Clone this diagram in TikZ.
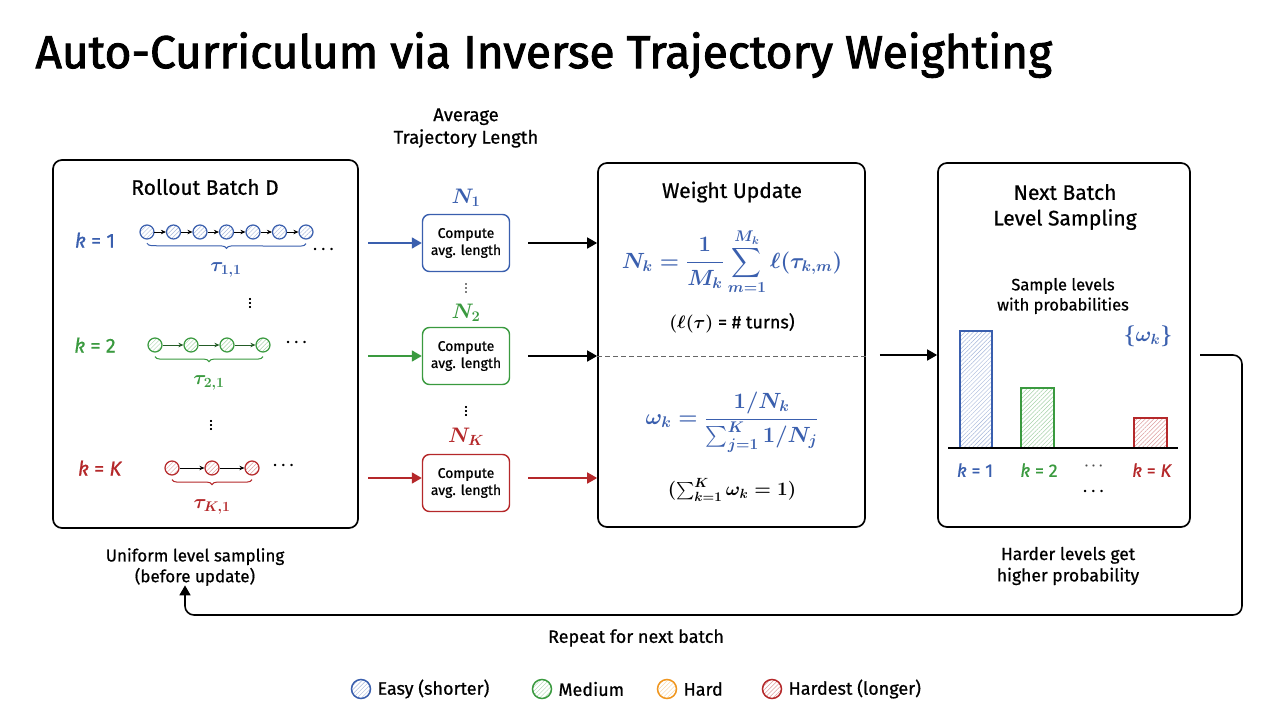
\RequirePackage{fix-cm}
\documentclass[tikz,border=0pt]{standalone}
\usepackage{fontspec}
\setmainfont{Fira Sans}[FakeBold=0.7]
\usepackage{amsmath}
\usetikzlibrary{arrows.meta,patterns.meta,decorations.pathreplacing,calc}
\definecolor{cblue}{HTML}{3A5FAE}
\definecolor{cgreen}{HTML}{3A9A3F}
\definecolor{cred}{HTML}{B5282A}
\definecolor{corange}{HTML}{F0961E}
\newcommand{\fs}[1]{\fontsize{#1pt}{1.22\dimexpr #1pt\relax}\selectfont}
\tikzset{
  panel/.style={draw, line width=1.7pt, rounded corners=9pt},
  cbox/.style={draw, line width=1.4pt, rounded corners=7pt, minimum width=87pt, minimum height=57pt, align=center, font=\fs{14}},
  tc/.style={circle, draw, line width=1.2pt, minimum size=14pt, inner sep=0pt},
  hatch/.style={pattern={Lines[angle=45,distance=3pt,line width=0.45pt]}, pattern color=#1!45},
  smallarr/.style={-{Stealth[length=5pt,width=4.5pt]}, line width=0.9pt},
  bigarr/.style={-{Triangle[length=10pt,width=11pt]}, line width=1.7pt},
  brc/.style={decorate, decoration={brace, mirror, amplitude=5pt}, line width=1pt},
  txt/.style={align=center, font=\fs{17.5}},
  hd/.style={align=center, font=\fs{21}},
  mth/.style={font=\fs{#1}\boldmath},
  lg/.style={tc, minimum size=19pt, line width=1.5pt, draw=#1, hatch=#1},
}
\begin{document}
\begin{tikzpicture}[x=1pt,y=-1pt]
\useasboundingbox (0,0) rectangle (1280,720);
\fill[white] (0,0) rectangle (1280,720);

% Title
\node[anchor=west, font=\fs{46}\addfontfeatures{FakeBold=2}] (title) at (32,55) {Auto-Curriculum via Inverse Trajectory Weighting};

% ---------- Panel 1
\node[panel, minimum width=305pt, minimum height=368pt] (batch) at (205.5,344) {};
\node[hd] (batchT) at (205,187) {Rollout Batch D};

% k=1
\node[font=\fs{20}, text=cblue] (k1) at (95,240) {\textit{k} = 1};
\foreach \i in {0,...,6} {
  \node[tc, draw=cblue, hatch=cblue] (a\i) at ({147+\i*26.5},232) {};
}
\foreach \i/\j in {0/1,1/2,2/3,3/4,4/5,5/6} { \draw[smallarr] (a\i) -- (a\j); }
\draw[brc, cblue] ([yshift=-4pt]a0.south) -- ([yshift=-4pt]a6.south);
\node[text=cblue, mth=20] (t1) at (226,270) {$\tau_{1,1}$};
\node[mth=16] (d1) at (325,250) {$\cdots$};
\node[mth=14] (v1) at (250,300) {$\vdots$};

% k=2
\node[font=\fs{20}, text=cgreen] (k2) at (95,345) {\textit{k} = 2};
\foreach \i in {0,...,3} {
  \node[tc, draw=cgreen, hatch=cgreen] (b\i) at ({155+\i*36},345) {};
}
\foreach \i/\j in {0/1,1/2,2/3} { \draw[smallarr, draw=cgreen!60!black] (b\i) -- (b\j); }
\draw[brc, cgreen] ([yshift=-4pt]b0.south) -- ([yshift=-4pt]b3.south);
\node[text=cgreen, mth=20] (t2) at (209,383) {$\tau_{2,1}$};
\node[mth=16] (d2) at (298,343) {$\cdots$};
\node[mth=14] (v2) at (211,422) {$\vdots$};

% k=K
\node[font=\fs{20}, text=cred] (kK) at (100,468) {\textit{k} = \textit{K}};
\foreach \i in {0,...,2} {
  \node[tc, draw=cred, hatch=cred] (c\i) at ({172+\i*40},468) {};
}
\foreach \i/\j in {0/1,1/2} { \draw[smallarr] (c\i) -- (c\j); }
\draw[brc, cred] ([yshift=-4pt]c0.south) -- ([yshift=-4pt]c2.south);
\node[text=cred, mth=20] (t3) at (212,507) {$\tau_{K,1}$};
\node[mth=16] (d3) at (285,466) {$\cdots$};

\node[txt, font=\fs{17}] (cap1) at (195,567) {Uniform level sampling\\(before update)};

% ---------- Column 2
\node[txt, font=\fs{18.5}] (avgT) at (466,128) {Average\\Trajectory Length};
\node[mth=21, text=cblue] (N1) at (466,198) {$N_1$};
\node[cbox, draw=cblue] (cb1) at (466,243) {Compute\\avg. length};
\node[mth=10] (v3) at (466,285) {$\vdots$};
\node[mth=21, text=cgreen] (N2) at (466,313) {$N_2$};
\node[cbox, draw=cgreen] (cb2) at (466,356) {Compute\\avg. length};
\node[mth=14] (v4) at (466,408) {$\vdots$};
\node[mth=21, text=cred] (NK) at (466,437) {$N_K$};
\node[cbox, draw=cred] (cb3) at (466,483) {Compute\\avg. length};

\coordinate (i1) at (368,243);
\coordinate (i2) at (368,356);
\coordinate (i3) at (368,478);
\draw[bigarr, cblue] (i1) -- (cb1.west);
\draw[bigarr, cgreen] (i2) -- (cb2.west);
\draw[bigarr, cred] (i3) -- (cb3.west |- i3);

% ---------- Panel 3
\node[panel, minimum width=267pt, minimum height=364pt] (wu) at (731.5,345) {};
\draw[bigarr] ([xshift=18pt]cb1.east) -- (cb1.east -| wu.west);
\draw[bigarr] ([xshift=18pt]cb2.east) -- (cb2.east -| wu.west);
\draw[bigarr, cred] ([xshift=18pt]cb3.east |- i3) -- (wu.west |- i3);

\node[hd] (wuT) at (732,192) {Weight Update};
\node[text=cblue, mth=22] (f1) at (732,262) {$\displaystyle N_k=\frac{1}{M_k}\sum_{m=1}^{M_k}\ell(\tau_{k,m})$};
\node[font=\fs{18}] (f1b) at (732,323) {{\boldmath$(\ell(\tau)$} = \# turns)};
\draw[line width=0.9pt, gray!80!black, dash pattern=on 5pt off 3pt] (wu.west |- 0,356) -- (wu.east |- 0,356);
\node[text=cblue, mth=22] (f2) at (732,422) {$\displaystyle \omega_k=\frac{1/N_k}{\sum_{j=1}^{K}1/N_j}$};
\node[mth=19] (f2b) at (732,490) {$(\sum_{k=1}^{K}\omega_k = 1)$};

% ---------- Panel 4
\node[panel, minimum width=252pt, minimum height=364pt] (nb) at (1064,345) {};
\draw[bigarr] ([xshift=14pt]wu.east |- 0,355) -- (nb.west |- 0,355);
\node[hd] (nbT) at (1065,207) {Next Batch\\Level Sampling};
\node[txt, font=\fs{16.5}] (samp) at (1063,296) {Sample levels\\with probabilities};
\node[text=cblue, mth=21] (wk) at (1148,336) {$\{\omega_k\}$};
\draw[line width=1.4pt, draw=cblue, hatch=cblue] (960,448) rectangle (992,331);
\draw[line width=1.4pt, draw=cgreen, hatch=cgreen] (1021,448) rectangle (1054,388);
\draw[line width=1.4pt, draw=cred, hatch=cred] (1134,448) rectangle (1167,418);
\draw[line width=1.2pt] (948,448) -- (1178,448);
\node[text=cblue, font=\fs{18}] (l1) at (975,470) {\textit{k} = 1};
\node[text=cgreen, font=\fs{18}] (l2) at (1039,470) {\textit{k} = 2};
\node[mth=14, text=gray!60!black] (l3) at (1095,466) {$\cdots$};
\node[text=cred, font=\fs{18}] (l4) at (1152,470) {\textit{k} = \textit{K}};
\node[mth=16] (l5) at (1095,492) {$\cdots$};

\node[txt] (cap4) at (1068,566) {Harder levels get\\higher probability};

% ---------- Loop
\coordinate (p0) at (1200,355);
\coordinate (p1) at (1242,355);
\coordinate (p2) at (1242,615);
\coordinate (p3) at (185,615);
\draw[line width=1.6pt, rounded corners=9pt, -{Triangle[length=10pt,width=11pt]}] (p0) -- (p1) -- (p2) -- (p3) -- ([yshift=4pt]cap1.south -| p3);
\node[font=\fs{18}] (rep) at (636,638) {Repeat for next batch};

% ---------- Legend
\node[lg=cblue] (g1) at (361,689) {};
\node[anchor=west, font=\fs{18}] (g1t) at (374,689) {Easy (shorter)};
\node[lg=cgreen] (g2) at (542,689) {};
\node[anchor=west, font=\fs{18}] (g2t) at (555,689) {Medium};
\node[lg=corange] (g3) at (667,689) {};
\node[anchor=west, font=\fs{18}] (g3t) at (680,689) {Hard};
\node[lg=cred] (g4) at (772,689) {};
\node[anchor=west, font=\fs{18}] (g4t) at (785,689) {Hardest (longer)};
\end{tikzpicture}
\end{document}
